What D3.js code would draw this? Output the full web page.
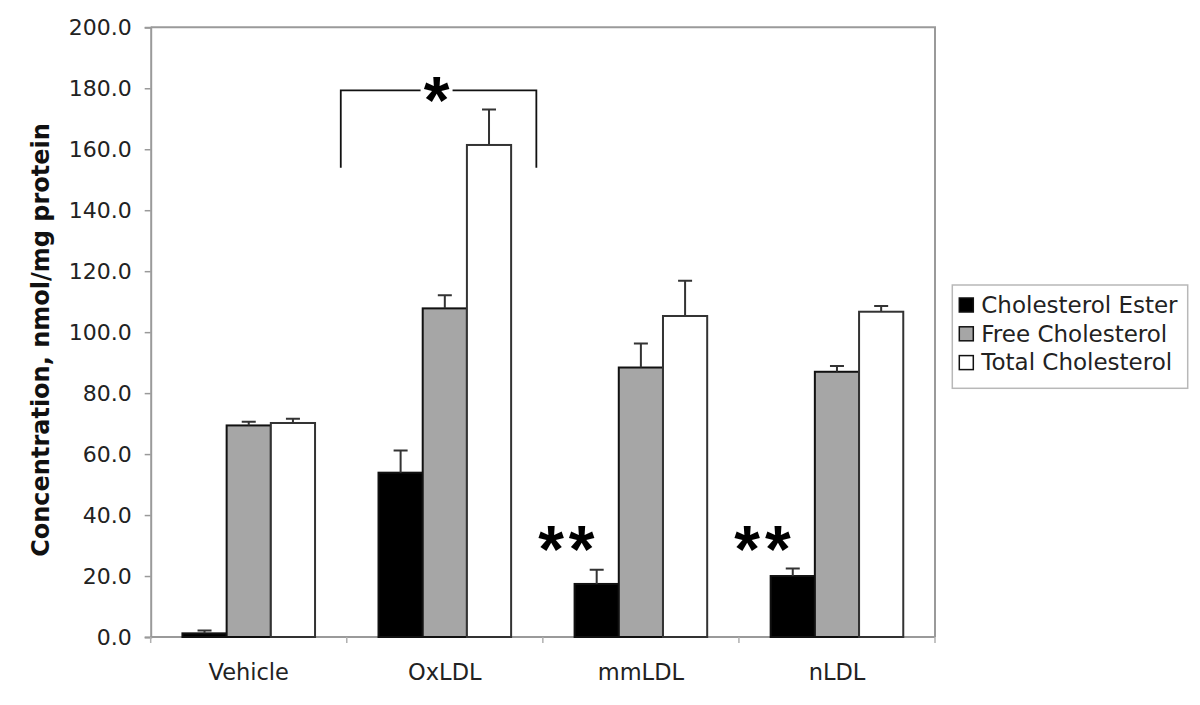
<!DOCTYPE html>
<html>
<head>
<meta charset="utf-8">
<script src="https://cdn.jsdelivr.net/npm/d3@7"></script>
<style>
  html, body { margin: 0; padding: 0; background: #fff; }
  svg { display: block; }
  text { font-family: "DejaVu Sans", Verdana, sans-serif; fill: #222; }
</style>
</head>
<body>
<svg id="chart" width="1200" height="705"></svg>
<script>
const categories = ["Vehicle", "OxLDL", "mmLDL", "nLDL"];
const seriesNames = ["Cholesterol Ester", "Free Cholesterol", "Total Cholesterol"];
const esterValues = [1.2, 53.9, 17.4, 20.0];
const esterErrors = [0.9, 7.3, 4.7, 2.5];
const freeValues  = [69.4, 107.8, 88.4, 87.0];
const freeErrors  = [1.2, 4.3, 7.9, 1.9];
const totalValues = [70.2, 161.4, 105.3, 106.7];
const totalErrors = [1.4, 11.6, 11.6, 1.9];
const yTickValues = [0, 20, 40, 60, 80, 100, 120, 140, 160, 180, 200];
const seriesColors = ["#000000", "#a6a6a6", "#ffffff"];
// annotations (data units)
const bracketTop = 179.3;
const bracketBottom = 153.9;
const doubleStarLevel = 31.6;
const doubleStarCategories = ["mmLDL", "nLDL"];

const seriesValues = [esterValues, freeValues, totalValues];
const seriesErrors = [esterErrors, freeErrors, totalErrors];

const svg = d3.select("#chart");
const pLeft = 150.7, pRight = 935, pTop = 27.3, pBottom = 637;

const x = d3.scaleBand().domain(categories).range([pLeft, pRight]).padding(0);
const xs = d3.scaleBand().domain(seriesNames).range([0, x.bandwidth()])
  .paddingInner(0).paddingOuter(0.718);
const y = d3.scaleLinear().domain([0, 200]).range([pBottom, pTop]);

// plot frame (top & right)
svg.append("path")
  .attr("d", `M${pLeft},${pTop}H${pRight}V${pBottom}`)
  .attr("fill", "none").attr("stroke", "#9a9a9a").attr("stroke-width", 2);

// y axis
const yAxis = d3.axisLeft(y).tickValues(yTickValues)
  .tickFormat(d => d.toFixed(1)).tickSize(6).tickPadding(13);
const gy = svg.append("g").attr("transform", `translate(${pLeft},0)`).call(yAxis);
gy.select(".domain").attr("stroke", "#9a9a9a").attr("stroke-width", 2);
gy.selectAll(".tick line").attr("stroke", "#9a9a9a").attr("stroke-width", 1.5);
gy.selectAll(".tick text").attr("font-size", 22).attr("fill", "#222")
  .style("font-family", "'DejaVu Sans', Verdana, sans-serif");

// x axis
const gx = svg.append("g").attr("transform", `translate(0,${pBottom})`);
gx.append("line").attr("x1", pLeft).attr("x2", pRight).attr("y1", 0).attr("y2", 0)
  .attr("stroke", "#9a9a9a").attr("stroke-width", 2);
const bounds = categories.map(c => x(c)).concat([pRight]);
gx.selectAll("line.tk").data(bounds).join("line").attr("class", "tk")
  .attr("x1", d => d).attr("x2", d => d).attr("y1", 0).attr("y2", 6)
  .attr("stroke", "#b0b0b0").attr("stroke-width", 1.5);
gx.selectAll("text.cat").data(categories).join("text").attr("class", "cat")
  .attr("x", d => x(d) + x.bandwidth() / 2).attr("y", 43)
  .attr("text-anchor", "middle").attr("font-size", 22.5).text(d => d);

// bars
const groups = svg.append("g").selectAll("g").data(categories).join("g")
  .attr("transform", d => `translate(${x(d)},0)`);
seriesNames.forEach((s, si) => {
  groups.append("rect")
    .attr("x", xs(s))
    .attr("y", (d, i) => y(seriesValues[si][i]))
    .attr("width", xs.bandwidth())
    .attr("height", (d, i) => pBottom - y(seriesValues[si][i]))
    .attr("fill", seriesColors[si])
    .attr("stroke", si === 2 ? "#333" : "#111").attr("stroke-width", 2);
});
// error bars
seriesNames.forEach((s, si) => {
  const cx = xs(s) + xs.bandwidth() / 2;
  groups.append("path")
    .attr("d", (d, i) => {
      const v = seriesValues[si][i], e = seriesErrors[si][i];
      return `M${cx},${y(v)}V${y(v + e)}M${cx - 7},${y(v + e)}H${cx + 7}`;
    })
    .attr("fill", "none").attr("stroke", "#333").attr("stroke-width", 2);
});

// bracket annotation
const bxL = x("OxLDL") - 6, bxR = x("mmLDL") - 6.5;
const bMid = (bxL + bxR) / 2;
svg.append("path")
  .attr("d", `M${bxL},${y(bracketBottom)}V${y(bracketTop)}H${bMid - 18}M${bMid + 14},${y(bracketTop)}H${bxR}V${y(bracketBottom)}`)
  .attr("fill", "none").attr("stroke", "#111").attr("stroke-width", 1.8);
svg.append("text").attr("x", bMid - 2).attr("y", y(bracketTop) + 33)
  .attr("text-anchor", "middle").attr("font-size", 66).attr("font-weight", "bold")
  .style("font-family", "'Liberation Sans', Arial, sans-serif")
  .style("fill", "#000").text("*");

// double stars
svg.selectAll("text.dstar").data(doubleStarCategories).join("text").attr("class", "dstar")
  .attr("x", d => x(d) + 26).attr("y", y(doubleStarLevel) + 31)
  .attr("text-anchor", "middle").attr("font-size", 66).attr("font-weight", "bold")
  .attr("letter-spacing", 5)
  .style("font-family", "'Liberation Sans', Arial, sans-serif")
  .style("fill", "#000").text("**");

// y title
svg.append("text")
  .attr("transform", `translate(49,340) rotate(-90)`)
  .attr("text-anchor", "middle").attr("font-size", 24).attr("font-weight", "bold")
  .style("fill", "#111")
  .text("Concentration, nmol/mg protein");

// legend
const lg = svg.append("g");
lg.append("rect").attr("x", 952.3).attr("y", 285).attr("width", 235.4).attr("height", 103.3)
  .attr("fill", "#fff").attr("stroke", "#b8b8b8").attr("stroke-width", 1.5);
const rows = lg.selectAll("g").data(seriesNames).join("g")
  .attr("transform", (d, i) => `translate(959.3,${298 + i * 28.8})`);
rows.append("rect").attr("width", 14).attr("height", 14)
  .attr("fill", (d, i) => seriesColors[i]).attr("stroke", "#111").attr("stroke-width", 1.5);
rows.append("text").attr("x", 22).attr("y", 14.8).attr("font-size", 23).text(d => d);
</script>
</body>
</html>
